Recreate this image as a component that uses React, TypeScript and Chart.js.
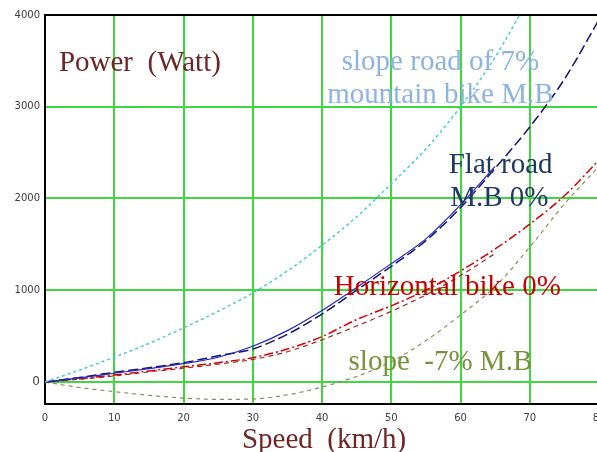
import React, { useEffect, useRef } from "react";
import { Chart, registerables } from "chart.js";

Chart.register(...registerables);

const speeds = [0, 5, 10, 15, 20, 25, 30, 35, 40, 45, 50, 55, 60, 65, 70, 75, 80];
const slopeUp7 = [0, 130, 270, 420, 590, 770, 970, 1210, 1490, 1800, 2160, 2540, 3000, 3540, 4200, null, null];
const flatSolid = [0, 45, 95, 145, 200, 270, 390, 560, 780, 1030, 1290, 1560, 1930, 2350, null, null, null];
const flatDashed = [0, 50, 105, 155, 210, 285, 360, 520, 740, 1000, 1260, 1540, 1900, 2330, 2780, 3300, 3950];
const horizontal = [0, 35, 75, 120, 165, 210, 265, 360, 495, 680, 830, 1000, 1210, 1450, 1720, 2030, 2420];
const horizontal2 = [0, 30, 65, 110, 150, 195, 245, 330, 460, 610, 770, 950, 1160, 1400, null, null, null];
const slopeDown7 = [0, -60, -105, -145, -175, -190, -185, -140, -55, 60, 220, 450, 730, 1040, 1470, 1940, 2350];
const yTicks = [0, 1000, 2000, 3000, 4000];

const labels = [
  { text: "Power  (Watt)", x: 13.7, y: 3389, color: "#6e2626" },
  { text: "slope road of 7%", x: 57.1, y: 3400, color: "#8db3e2" },
  { text: "mountain bike M.B", x: 57.1, y: 3037, color: "#8db3e2" },
  { text: "Flat road", x: 65.8, y: 2281, color: "#1f3864" },
  { text: "M.B 0%", x: 65.6, y: 1918, color: "#1f3864" },
  { text: "Horizontal bike 0%", x: 58.1, y: 948, color: "#c80000" },
  { text: "slope  -7% M.B", x: 57.1, y: 131, color: "#76923c" },
  { text: "Speed  (km/h)", x: 40.3, y: -719, color: "#6e2626" },
];

const pts = (arr: (number | null)[]) => speeds.map((s, i) => ({ x: s, y: arr[i] }));

const textPlugin = {
  id: "textLabels",
  afterDatasetsDraw(chart: any) {
    const ctx = chart.ctx;
    const xs = chart.scales.x;
    const ys = chart.scales.y;
    ctx.save();
    ctx.font = '29px "Liberation Serif", "Times New Roman", serif';
    ctx.textAlign = "center";
    ctx.textBaseline = "alphabetic";
    labels.forEach((l) => {
      ctx.fillStyle = l.color;
      ctx.fillText(l.text, xs.getPixelForValue(l.x), ys.getPixelForValue(l.y));
    });
    ctx.restore();
  },
};

export default function App() {
  const ref = useRef<HTMLCanvasElement>(null);
  useEffect(() => {
    if (!ref.current) return;
    const green = "#3cd83c";
    const chart = new Chart(ref.current, {
      type: "line",
      data: {
        datasets: [
          { data: pts(slopeUp7), borderColor: "#48c8dc", borderWidth: 1.5, borderDash: [3, 3] },
          { data: pts(flatSolid), borderColor: "#2424c8", borderWidth: 1.2 },
          { data: pts(flatDashed), borderColor: "#14146e", borderWidth: 1.5, borderDash: [10, 4] },
          { data: pts(horizontal2), borderColor: "#a02828", borderWidth: 1.2, borderDash: [5, 4] },
          { data: pts(horizontal), borderColor: "#d40000", borderWidth: 1.5, borderDash: [9, 3, 2, 3] },
          { data: pts(slopeDown7), borderColor: "#8c8c5a", borderWidth: 1.2, borderDash: [4, 4] },
        ] as any,
      },
      options: {
        animation: false,
        responsive: false,
        maintainAspectRatio: false,
        events: [],
        elements: {
          point: { radius: 0 },
          line: { cubicInterpolationMode: "monotone", fill: false },
        },
        layout: { padding: { left: 0, top: 15, right: 21, bottom: 0 } },
        plugins: { legend: { display: false }, tooltip: { enabled: false }, title: { display: false } },
        scales: {
          x: {
            type: "linear",
            min: 0,
            max: 80,
            ticks: {
              stepSize: 10,
              padding: 8,
              color: "#404040",
              font: { family: "DejaVu Sans", size: 10 },
              callback: (v: any) => String(v),
            },
            grid: {
              color: (c: any) => (c.tick && c.tick.value === 0 ? "rgba(0,0,0,0)" : green),
              lineWidth: 2,
              drawTicks: false,
            },
            border: { color: "#000", width: 2 },
            afterFit: (s: any) => {
              s.height = 48;
            },
          } as any,
          y: {
            type: "linear",
            min: -240,
            max: 4000,
            afterBuildTicks: (s: any) => {
              s.ticks = yTicks.map((v) => ({ value: v }));
            },
            ticks: {
              padding: 5,
              color: "#404040",
              callback: (v: any) => String(v),
              font: (c: any) =>
                c.tick && c.tick.value === 0
                  ? { family: "DejaVu Sans", size: 12 }
                  : { family: "DejaVu Sans", size: 10 },
            },
            grid: {
              color: (c: any) => (c.tick && c.tick.value === 4000 ? "#000" : green),
              lineWidth: 2,
              drawTicks: false,
            },
            border: { color: "#000", width: 2 },
            afterFit: (s: any) => {
              s.width = 45;
            },
          } as any,
        },
      },
      plugins: [textPlugin],
    });
    return () => chart.destroy();
  }, []);
  return (
    <div style={{ position: "fixed", left: 0, top: 0, width: 597, height: 452, overflow: "hidden", background: "#fff" }}>
      <canvas ref={ref} width={620} height={452} style={{ display: "block" }} />
    </div>
  );
}
